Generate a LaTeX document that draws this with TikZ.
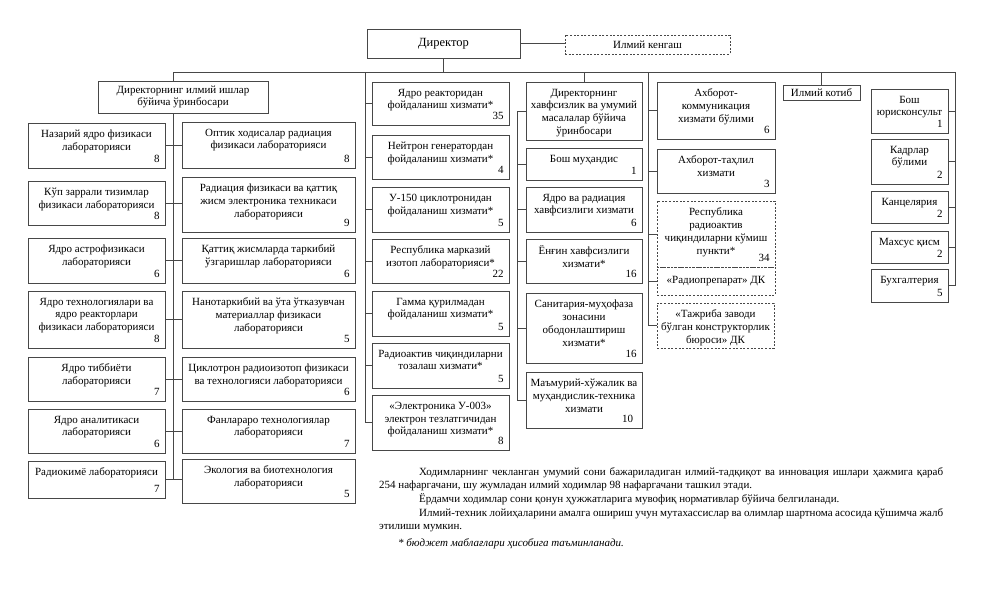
\documentclass[tikz,border=0pt]{standalone}
\usepackage{fontspec}
\setmainfont{Liberation Serif}
\usetikzlibrary{fit}
\newcommand\bx[6][boxfr]{%
  \node[#1, fit={(#3) (#4)}] (#2) {};
  \node[lbl] at ([yshift=-7pt]#2.north) {#5};
  \node[num] at ([xshift=-5.5pt,yshift=5.5pt]#2.south east) {#6};
}
\begin{document}
\begin{tikzpicture}[x=1pt,y=-1pt,
  every node/.style={inner sep=0pt},
  boxfr/.style={draw=black!72, line width=0.8pt, rectangle, inner sep=0pt},
  dboxfr/.style={boxfr, dash pattern=on 2pt off 1.6pt},
  lbl/.style={align=center, font=\fontsize{11}{12.9}\selectfont, anchor=north},
  num/.style={font=\fontsize{11}{12}\selectfont, anchor=base east},
  ctr/.style={font=\fontsize{11}{12.7}\selectfont, align=center},
  conn/.style={draw=black!72, line width=0.8pt}]
\fill[white] (0,0) rectangle (996,605);
\useasboundingbox (0,0) rectangle (996,605);

% top level
\node[boxfr, fit={(367,29) (520,58)}] (dir) {};
\node[font=\fontsize{12.5}{14}\selectfont] at (dir.center) {Директор};
\node[dboxfr, fit={(565,35) (730,54)}] (kg) {};
\node[ctr] at (kg.center) {Илмий кенгаш};
\node[boxfr, fit={(98,81) (268,113)}] (sd) {};
\node[ctr] at (sd.center) {Директорнинг илмий ишлар\\бўйича ўринбосари};
\node[boxfr, fit={(783,85) (860,100)}] (kt) {};
\node[ctr] at (kt.center) {Илмий котиб};

% left group, left column
\bx{L1}{28,123}{165,168}{Назарий ядро физикаси\\лабораторияси}{8}
\bx{L2}{28,181}{165,225}{Кўп заррали тизимлар\\физикаси лабораторияси}{8}
\bx{L3}{28,238}{165,283}{Ядро астрофизикаси\\лабораторияси}{6}
\bx{L4}{28,291}{165,348}{Ядро технологиялари ва\\ядро реакторлари\\физикаси лабораторияси}{8}
\bx{L5}{28,357}{165,401}{Ядро тиббиёти\\лабораторияси}{7}
\bx{L6}{28,409}{165,453}{Ядро аналитикаси\\лабораторияси}{6}
\bx{L7}{28,461}{165,498}{Радиокимё лабораторияси}{7}

% left group, right column
\bx{R1}{182,122}{355,168}{Оптик ходисалар радиация\\физикаси лабораторияси}{8}
\bx{R2}{182,177}{355,232}{Радиация физикаси ва қаттиқ\\жисм электроника техникаси\\лабораторияси}{9}
\bx{R3}{182,238}{355,283}{Қаттиқ жисмларда таркибий\\ўзгаришлар лабораторияси}{6}
\bx{R4}{182,291}{355,348}{Нанотаркибий ва ўта ўтказувчан\\материаллар физикаси\\лабораторияси}{5}
\bx{R5}{182,357}{355,401}{Циклотрон радиоизотоп физикаси\\ва технологияси лабораторияси}{6}
\bx{R6}{182,409}{355,453}{Фанлараро технологиялар\\лабораторияси}{7}
\bx{R7}{182,459}{355,503}{Экология ва биотехнология\\лабораторияси}{5}

% middle column
\bx{M1}{372,82}{509,125}{Ядро реакторидан\\фойдаланиш хизмати*}{35}
\bx{M2}{372,135}{509,179}{Нейтрон генератордан\\фойдаланиш хизмати*}{4}
\bx{M3}{372,187}{509,232}{У-150 циклотронидан\\фойдаланиш хизмати*}{5}
\bx{M4}{372,239}{509,283}{Республика марказий\\изотоп лабораторияси*}{22}
\bx{M5}{372,291}{509,336}{Гамма қурилмадан\\фойдаланиш хизмати*}{5}
\bx{M6}{372,343}{509,388}{Радиоактив чиқиндиларни\\тозалаш хизмати*}{5}
\bx{M7}{372,395}{509,450}{«Электроника У-003»\\электрон тезлатгичидан\\фойдаланиш хизмати*}{8}

% column 3
\bx{C1}{526,82}{642,140}{Директорнинг\\хавфсизлик ва умумий\\масалалар бўйича\\ўринбосари}{}
\bx{C2}{526,148}{642,180}{Бош муҳандис}{1}
\bx{C3}{526,187}{642,232}{Ядро ва радиация\\хавфсизлиги хизмати}{6}
\bx{C4}{526,239}{642,283}{Ёнғин хавфсизлиги\\хизмати*}{16}
\bx{C5}{526,293}{642,363}{Санитария-муҳофаза\\зонасини\\ободонлаштириш\\хизмати*}{16}
\bx{C6}{526,372}{642,428}{Маъмурий-хўжалик ва\\муҳандислик-техника\\хизмати}{}
\node[num] at ([xshift=-9pt,yshift=5.5pt]C6.south east) {10};

% column 4
\bx{F1}{657,82}{775,139}{Ахборот-\\коммуникация\\хизмати бўлими}{6}
\bx{F2}{657,149}{775,193}{Ахборот-таҳлил\\хизмати}{3}
\bx[dboxfr]{F3}{657,201}{775,267}{Республика\\радиоактив\\чиқиндиларни кўмиш\\пункти*}{34}
\node[dboxfr, fit={(657,267) (775,295)}] (F4) {};
\node[ctr] at (F4.center) {«Радиопрепарат» ДК};
\bx[dboxfr]{F5}{657,303}{774,348}{«Тажриба заводи\\бўлган конструкторлик\\бюроси» ДК}{}

% right column
\bx{r1}{871,89}{948,133}{Бош\\юрисконсульт}{1}
\bx{r2}{871,139}{948,184}{Кадрлар\\бўлими}{2}
\bx{r3}{871,191}{948,223}{Канцелярия}{2}
\bx{r4}{871,231}{948,263}{Махсус қисм}{2}
\bx{r5}{871,269}{948,302}{Бухгалтерия}{5}

% connectors
\coordinate (busR) at (955,72);
\draw[conn] (dir.east) -- (dir.east -| kg.west);
\draw[conn] (dir.south) -- (dir.south |- busR);
\coordinate (sdt) at ([xshift=-10pt]sd.north);
\coordinate (sdb) at ([xshift=-10pt]sd.south);
\draw[conn] (sdt) -- (sdt |- busR) -- (busR) -- (busR |- r5.east) -- (r5.east);
\draw[conn] (sdb) -- (sdb |- L7.east);
\foreach \a/\b in {L1/R1,L2/R2,L3/R3,L4/R4,L5/R5,L6/R6,L7/R7}
  \draw[conn] (\a.east) -- (\a.east -| \b.west);
\coordinate (mx) at (365,72);
\draw[conn] (mx) |- (M7.west);
\foreach \m in {M1,M2,M3,M4,M5,M6}
  \draw[conn] (mx |- \m.west) -- (\m.west);
\draw[conn] (C1.north) -- (C1.north |- busR);
\coordinate (cx) at (517,0);
\draw[conn] (C1.west) -- (cx |- C1.west) -- (cx |- C6.west) -- (C6.west);
\foreach \m in {C2,C3,C4,C5}
  \draw[conn] (cx |- \m.west) -- (\m.west);
\coordinate (fx) at (648,72);
\draw[conn] (fx) |- (F5.west);
\foreach \m in {F1,F2,F3,F4}
  \draw[conn] (fx |- \m.west) -- (\m.west);
\draw[conn] (kt.north) -- (kt.north |- busR);
\foreach \m in {r1,r2,r3,r4}
  \draw[conn] (\m.east) -- (\m.east -| busR);

% notes
\node[anchor=north west, text width=564pt, align=justify,
      font=\fontsize{11}{13.7}\selectfont] (note) at (379,467)
{\hspace*{40pt}Ходимларнинг чекланган умумий сони бажариладиган илмий-тадқиқот ва инновация ишлари ҳажмига қараб\linebreak 254 нафаргачани, шу жумладан илмий ходимлар 98 нафаргачани ташкил этади.\par
\hspace*{40pt}Ёрдамчи ходимлар сони қонун ҳужжатларига мувофиқ нормативлар бўйича белгиланади.\par
\hspace*{40pt}Илмий-техник лойиҳаларини амалга ошириш учун мутахассислар ва олимлар шартнома асосида қўшимча жалб\linebreak этилиши мумкин.\par
\vspace{2.5pt}\hspace*{19pt}\textit{* бюджет маблағлари ҳисобига таъминланади.}\par};
\end{tikzpicture}
\end{document}
